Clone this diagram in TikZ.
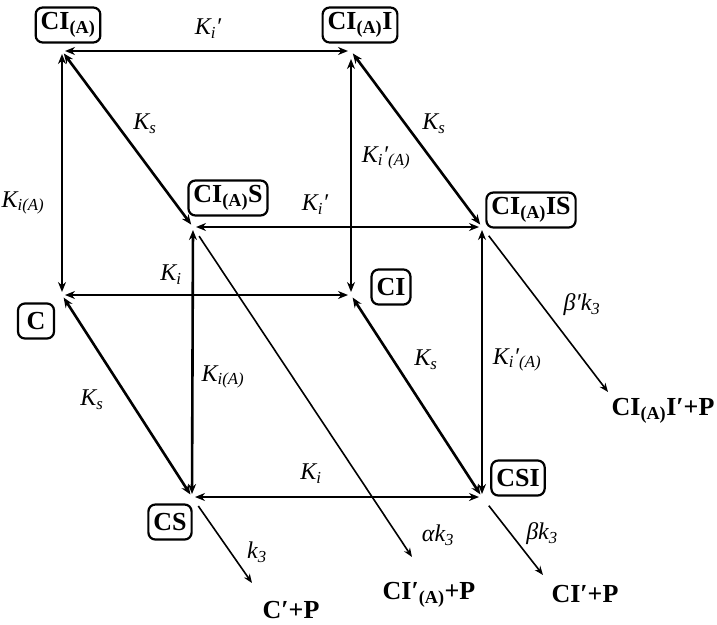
\documentclass[tikz,border=0pt]{standalone}
\usepackage{fontspec}
\setmainfont{Liberation Serif}
\usetikzlibrary{arrows.meta}
\newcommand\bxfont{\fontsize{26}{30}\selectfont\bfseries}
\newcommand\labfont{\fontsize{24}{28}\selectfont\itshape}
\newcommand\sub[1]{\textsubscript{#1}}
\tikzset{
  box/.style={draw, line width=2.2pt, rounded corners=7pt, inner xsep=5pt, inner ysep=2pt, minimum height=35pt, minimum width=36pt, font=\bxfont},
  eqarrow/.style={line width=2.6pt, {Stealth[length=10pt,width=8pt]}-{Stealth[length=10pt,width=8pt]}, shorten <=3pt, shorten >=3pt},
  rxarrow/.style={line width=1.6pt, -{Stealth[length=9pt,width=7pt]}},
  lab/.style={font=\labfont, inner sep=0pt},
  prod/.style={font=\bxfont, inner sep=0pt}
}
\begin{document}
\begin{tikzpicture}[x=1pt,y=-1pt]
\useasboundingbox (0,0) rectangle (717,624);
% vertices
\coordinate (vA) at (62,51);
\coordinate (vB) at (351,51);
\coordinate (vC) at (62,295);
\coordinate (vD) at (351,295);
\coordinate (vE) at (193,227);
\coordinate (vF) at (482,227);
\coordinate (vG) at (192,497);
\coordinate (vH) at (482,497);
% boxes
\node[box] (nA) at (68,25) {CI\sub{(A)}};
\node[box] (nB) at (360,25) {CI\sub{(A)}I};
\node[box] (nE) at (228,198) {CI\sub{(A)}S};
\node[box] (nF) at (531,210) {CI\sub{(A)}IS};
\node[box] (nD) at (391,287) {CI};
\node[box] (nC) at (36,321) {C};
\node[box] (nG) at (170,522) {CS};
\node[box] (nH) at (518,478) {CSI};
% cube edges
\draw[eqarrow] (vA) -- (vB);
\draw[eqarrow] (vA) -- (vC);
\draw[eqarrow, shorten <=8pt] (vB) -- (vD);
\draw[eqarrow] (vC) -- (vD);
\draw[eqarrow] (vA) -- (vE);
\draw[eqarrow] (vB) -- (vF);
\draw[eqarrow] (vC) -- (vG);
\draw[eqarrow] (vD) -- (vH);
\draw[eqarrow] (vE) -- (vF);
\draw[eqarrow] (vE) -- (vG);
\draw[eqarrow] (vF) -- (vH);
\draw[eqarrow] (vG) -- (vH);
% products
\node[prod] (pG) at (291,610) {C′+P};
\node[prod] (pE) at (429,595) {CI′\sub{(A)}+P};
\node[prod] (pH) at (585,594) {CI′+P};
\node[prod] (pF) at (663,411) {CI\sub{(A)}I′+P};
\coordinate (eG) at (252,583);
\coordinate (eE) at (412,557);
\coordinate (eH) at (543,575);
\coordinate (eF) at (608,392);
\draw[rxarrow, shorten <=11pt] (vG) -- (eG);
\draw[rxarrow, shorten <=11pt] (vE) -- (eE);
\draw[rxarrow, shorten <=11pt] (vH) -- (eH);
\draw[rxarrow, shorten <=11pt] (vF) -- (eF);
% labels
\node[lab] (l1) at (208,29) {K\sub{i}′};
\node[lab] (l2) at (145,124) {K\sub{s}};
\node[lab] (l3) at (23,203) {K\sub{i(A)}};
\node[lab] (l4) at (315,205) {K\sub{i}′};
\node[lab] (l5) at (171,275) {K\sub{i}};
\node[lab] (l6) at (434,124) {K\sub{s}};
\node[lab] (l7) at (386,158) {K\sub{i}′\sub{(A)}};
\node[lab] (l8) at (582,305) {β′k\sub{3}};
\node[lab] (l9) at (426,360) {K\sub{s}};
\node[lab] (l10) at (517,360) {K\sub{i}′\sub{(A)}};
\node[lab] (l11) at (92,400) {K\sub{s}};
\node[lab] (l12) at (223,377) {K\sub{i(A)}};
\node[lab] (l13) at (311,474) {K\sub{i}};
\node[lab] (l14) at (257,552) {k\sub{3}};
\node[lab] (l15) at (438,535) {αk\sub{3}};
\node[lab] (l16) at (542,534) {βk\sub{3}};
\end{tikzpicture}
\end{document}
